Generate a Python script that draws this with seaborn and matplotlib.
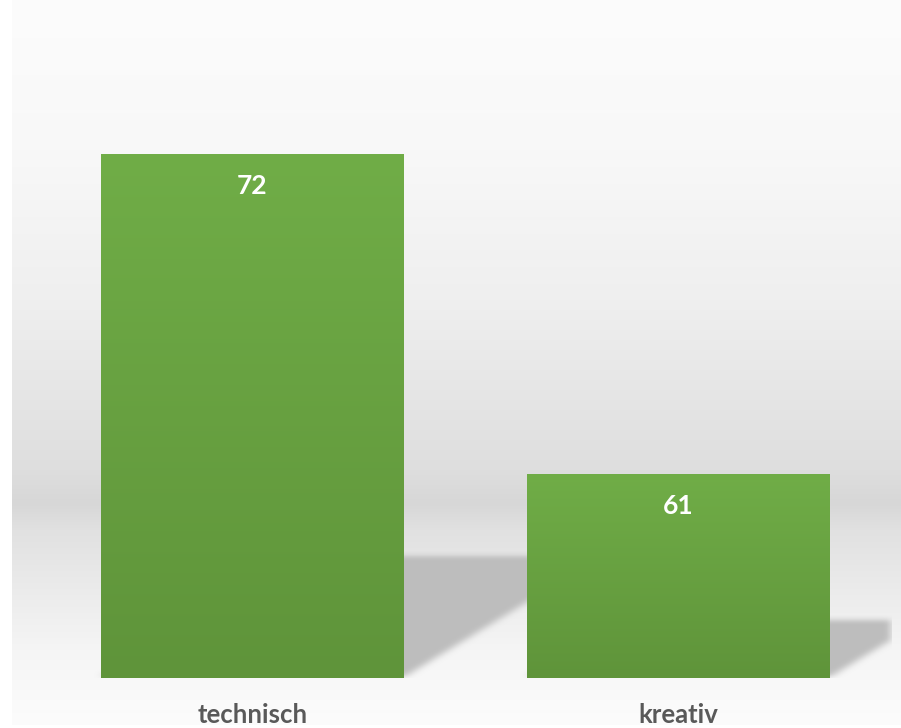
import numpy as np
import pandas as pd
import seaborn as sns
import matplotlib.pyplot as plt

# data
categories = ['technisch', 'kreativ']
values = [72, 61]
y_min, y_max = 54, 76

sns.set_theme(style='white')
plt.rcParams['font.family'] = ['Lato', 'DejaVu Sans']

W, H = 901, 728
fig = plt.figure(figsize=(W / 100, H / 100), dpi=100)
fig.patch.set_facecolor('white')

# background gradient (chart area)
bg_ax = fig.add_axes([12 / W, 3 / H, (W - 12) / W, 725 / H], zorder=0)
stops_y = [0, 150, 300, 400, 470, 503, 530, 600, 650, 700, 725]
stops_v = [252, 248, 239, 229, 222, 215, 225, 237, 245, 250, 252]
yy = np.arange(725)
grey = np.interp(yy, stops_y, stops_v) / 255
bg_ax.imshow(np.repeat(grey[:, None, None], 3, axis=2), aspect='auto',
             extent=[0, 1, 0, 1], origin='upper')
bg_ax.axis('off')

# plot area
ax_left, ax_bottom, ax_w, ax_h = 39.5, 50, 852, 640
ax = fig.add_axes([ax_left / W, ax_bottom / H, ax_w / W, ax_h / H], zorder=1)
ax.set_facecolor('none')

df = pd.DataFrame({'cat': categories, 'val': values})
sns.barplot(data=df, x='cat', y='val', color='#6aa543', width=0.711,
            saturation=1, ax=ax, zorder=3)
ax.set_ylim(y_min, y_max)
ax.set_xlim(-0.5, len(categories) - 0.5)

# gradient fill on bars
top_c = np.array([112, 173, 71]) / 255
bot_c = np.array([95, 148, 58]) / 255
for patch, v in zip(ax.patches, values):
    x0 = patch.get_x()
    x1 = x0 + patch.get_width()
    t = np.linspace(0, 1, 256)[:, None]
    grad = (top_c * (1 - t) + bot_c * t)[:, None, :]
    im = ax.imshow(grad, aspect='auto', extent=[x0, x1, y_min, v],
                   origin='upper', zorder=4)
    im.set_clip_path(patch)
    patch.set_facecolor('none')
    patch.set_edgecolor('none')
ax.set_xlim(-0.5, len(categories) - 0.5)
ax.set_ylim(y_min, y_max)

# perspective shadow behind bars (pixel grid of the plot area)
px_per_x = ax_w / len(categories)
px_per_y = ax_h / (y_max - y_min)
gy, gx = np.mgrid[0:ax_h, 0:ax_w]
mask = np.zeros((ax_h, ax_w))
for patch, v in zip(ax.patches, values):
    bx0 = (patch.get_x() + 0.5) * px_per_x
    bx1 = bx0 + patch.get_width() * px_per_x
    h_units = v - y_min
    sh = (0.2 * h_units + 0.55) * px_per_y
    inside = (gy <= sh) & (gx >= bx0 + 1.64 * gy) & (gx <= bx1 + 1.64 * gy)
    mask[inside] = 1.0


def blur(a, kx, ky):
    kern_y = np.ones(ky) / ky
    kern_x = np.ones(kx) / kx
    a = np.apply_along_axis(lambda r: np.convolve(r, kern_y, mode='same'), 0, a)
    a = np.apply_along_axis(lambda r: np.convolve(r, kern_x, mode='same'), 1, a)
    return a


mask = blur(blur(mask, 11, 6), 11, 6)
shadow = np.zeros((ax_h, ax_w, 4))
shadow[..., :3] = 0.745
shadow[..., 3] = np.clip(mask, 0, 1)
ax.imshow(shadow, aspect='auto', origin='lower',
          extent=[-0.5, len(categories) - 0.5, y_min, y_max], zorder=2)
ax.set_xlim(-0.5, len(categories) - 0.5)
ax.set_ylim(y_min, y_max)

# data labels
for i, v in enumerate(values):
    ax.text(i, v - 32 / px_per_y, str(v), ha='center', va='center',
            color='white', fontsize=19, fontweight='bold', zorder=5)

ax.set_xlabel('')
ax.set_ylabel('')
ax.set_yticks([])
ax.tick_params(axis='x', length=0, pad=18)
for lab in ax.get_xticklabels():
    lab.set_fontsize(18.5)
    lab.set_fontweight('bold')
    lab.set_color('#595959')
sns.despine(ax=ax, left=True, bottom=True)

fig.savefig('out.png', dpi=100)
